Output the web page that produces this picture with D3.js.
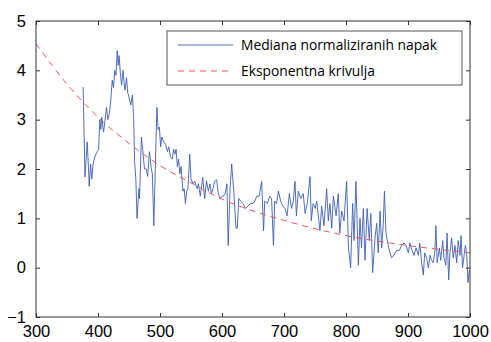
<!DOCTYPE html>
<html>
<head>
<meta charset="utf-8">
<script src="https://cdn.jsdelivr.net/npm/d3@7.9.0/dist/d3.min.js"></script>
<style>
  body { margin: 0; background: #fff; }
  svg { display: block; font-family: "Open Sans", sans-serif; }
</style>
</head>
<body>
<svg id="chart" width="491" height="342"></svg>
<script>
const waveX = [376, 379, 382.6, 384.7, 385.8, 388, 390, 392, 395, 398.7, 401, 403, 404.6, 406, 409, 411, 413.7, 416, 418, 420, 423, 425, 427, 429, 431, 432.5, 434, 436, 438, 440.5, 442, 443.7, 446, 448, 451, 453, 455.5, 457.6, 459, 461, 463, 466, 467, 470, 472, 475, 478, 480, 483, 486, 487.7, 490, 495, 497, 499, 501, 503, 506, 509, 512, 514, 517, 520, 522, 524, 526, 528, 530, 532, 534, 537, 539, 541, 543, 545, 548, 550, 553, 556, 560, 562, 565, 569, 572, 575, 578, 580.6, 583, 585.6, 588, 591.5, 594, 597, 600, 602, 605, 608, 610, 613, 615.6, 619, 622.6, 624.7, 627, 630, 634, 638, 642, 646, 650, 653, 656, 660, 664, 667, 669, 673, 677, 680, 683, 685, 688, 691, 694.6, 698, 701.6, 705, 708.6, 712, 715, 717.7, 720, 723, 727, 731, 734, 737.6, 742, 744, 747, 750.5, 752.7, 758, 760.7, 764.5, 768.8, 771.5, 774, 777, 779.6, 784, 787.6, 790, 793, 796.8, 801, 804, 807.5, 810.7, 813, 816, 820, 822.6, 825, 828, 830.6, 834, 837.6, 840, 843, 846.8, 849.5, 852, 855, 857.5, 860, 862, 864.5, 868, 871, 873.6, 877, 881.7, 886, 889.8, 893.5, 896.8, 900.5, 903, 906.5, 909.7, 913, 916.7, 919, 922, 924.7, 927, 930, 932.8, 935.5, 938, 940.8, 943.5, 945, 947, 950.5, 952.7, 956, 958, 961, 963, 965.6, 967.7, 970.4, 973, 975.8, 978.5, 981, 983.9, 985.5, 988, 990, 992.5, 994.6, 996.7, 999];
const medianError = [3.66, 1.84, 2.55, 2.0, 1.65, 2.1, 1.8, 2.1, 2.25, 2.35, 2.4, 3.0, 2.8, 3.05, 2.75, 2.95, 3.25, 3.0, 3.1, 3.3, 3.8, 3.65, 4.0, 3.9, 4.4, 4.1, 4.3, 3.95, 3.7, 4.0, 3.75, 3.6, 3.85, 3.55, 3.4, 3.3, 3.5, 3.0, 2.15, 1.8, 1.0, 1.6, 1.4, 2.65, 2.4, 2.0, 2.0, 1.85, 2.35, 2.0, 1.9, 0.85, 3.25, 2.8, 2.85, 2.45, 2.65, 2.55, 2.5, 2.35, 2.45, 2.25, 2.2, 2.4, 2.3, 2.4, 2.05, 2.2, 1.9, 2.05, 1.55, 1.6, 1.3, 1.55, 1.6, 2.3, 1.8, 1.7, 1.75, 1.6, 1.7, 1.45, 1.83, 1.4, 1.76, 1.55, 1.7, 1.5, 1.6, 1.75, 1.78, 1.5, 1.4, 1.45, 1.45, 1.5, 1.7, 0.45, 1.6, 2.1, 1.55, 0.8, 0.8, 1.4, 1.35, 1.3, 1.2, 1.25, 1.3, 1.3, 1.35, 1.45, 1.45, 1.75, 0.75, 1.35, 1.3, 1.45, 1.4, 0.45, 1.35, 1.3, 1.55, 1.35, 1.25, 1.2, 1.05, 1.5, 1.2, 1.35, 1.75, 1.05, 1.55, 1.4, 1.5, 1.1, 1.3, 1.85, 0.95, 1.3, 1.2, 1.35, 0.75, 1.25, 0.85, 1.6, 0.95, 1.3, 0.8, 1.45, 1.05, 1.5, 0.7, 1.15, 0.95, 1.75, 0.4, 0.0, 1.3, 0.55, 1.75, 0.05, 1.0, 0.4, 1.2, 0.15, 1.2, 0.55, 1.1, -0.1, 0.6, 0.9, 0.3, 1.15, 0.4, 0.85, 1.55, 0.7, 0.45, 0.3, 0.2, 0.25, 0.35, 0.35, 0.45, 0.5, 0.45, 0.3, 0.5, 0.35, 0.25, 0.4, 0.25, 0.5, 0.1, -0.15, 0.3, 0.2, 0.0, 0.25, 0.15, 0.1, 0.35, 0.85, 0.1, 0.4, 0.15, 0.55, 0.2, 0.05, 0.7, -0.25, 0.3, 0.6, 0.2, 0.45, 0.1, 0.55, 0.25, 0.65, 0.0, 0.2, 0.45, 0.3, -0.3, -0.05];

// fitted exponential, every 50 nm
const fitX = [300, 350, 400, 450, 500, 550, 600, 650, 700, 750, 800, 850, 900, 950, 1000];
const fitY = [4.54, 3.72, 3.05, 2.52, 2.07, 1.72, 1.39, 1.15, 0.96, 0.79, 0.65, 0.54, 0.45, 0.37, 0.30];

const xTicks = [300, 400, 500, 600, 700, 800, 900, 1000];
const yTicks = [-1, 0, 1, 2, 3, 4, 5];
const legendLabels = ['Mediana normaliziranih napak', 'Eksponentna krivulja'];

const svg = d3.select('#chart');
const plotL = 36, plotR = 470, plotT = 21, plotB = 317;

const x = d3.scaleLinear().domain([300, 1000]).range([plotL, plotR]);
const y = d3.scaleLinear().domain([-1, 5]).range([plotB, plotT]);

// clip so lines stay inside the frame
svg.append('clipPath').attr('id', 'clip')
  .append('rect').attr('x', plotL).attr('y', plotT).attr('width', plotR - plotL).attr('height', plotB - plotT);

const plot = svg.append('g').attr('clip-path', 'url(#clip)');

const blueLine = d3.line().x((d) => x(d[0])).y((d) => y(d[1]));
const redLine = d3.line().x((d) => x(d[0])).y((d) => y(d[1])).curve(d3.curveMonotoneX);

plot.append('path')
  .attr('d', blueLine(d3.zip(waveX, medianError)))
  .attr('fill', 'none')
  .attr('stroke', '#3d5fb3')
  .attr('stroke-width', 0.9)
  .attr('stroke-linejoin', 'round');

plot.append('path')
  .attr('d', redLine(d3.zip(fitX, fitY)))
  .attr('fill', 'none')
  .attr('stroke', '#f05656')
  .attr('stroke-width', 1)
  .attr('stroke-dasharray', '6,5');

// axes, ticks pointing inward on all four sides
const tickLen = 4;
const axisStyle = (g) => {
  g.select('.domain').remove();
  g.selectAll('line').attr('stroke', '#333');
  g.selectAll('text').attr('fill', '#000').style('font-size', '16.5px');
};

svg.append('g')
  .attr('transform', `translate(0,${plotB})`)
  .call(d3.axisBottom(x).tickValues(xTicks).tickSize(-tickLen).tickPadding(8).tickFormat(d3.format('d')))
  .call(axisStyle);

svg.append('g')
  .attr('transform', `translate(0,${plotT})`)
  .call(d3.axisTop(x).tickValues(xTicks).tickSize(-tickLen).tickFormat(''))
  .call(axisStyle);

svg.append('g')
  .attr('transform', `translate(${plotL},0)`)
  .call(d3.axisLeft(y).tickValues(yTicks).tickSize(-tickLen).tickPadding(10).tickFormat(d3.format('d')))
  .call(axisStyle);

svg.append('g')
  .attr('transform', `translate(${plotR},0)`)
  .call(d3.axisRight(y).tickValues(yTicks).tickSize(-tickLen).tickFormat(''))
  .call(axisStyle);

svg.append('rect')
  .attr('x', plotL).attr('y', plotT)
  .attr('width', plotR - plotL).attr('height', plotB - plotT)
  .attr('fill', 'none')
  .attr('stroke', '#333')
  .attr('stroke-width', 1);

// legend
const legend = svg.append('g').attr('transform', 'translate(167,31)');
legend.append('rect')
  .attr('width', 295).attr('height', 54)
  .attr('fill', '#fff')
  .attr('stroke', '#555');

legendLabels.forEach((label, i) => {
  const row = legend.append('g').attr('transform', `translate(0,${14 + i * 26})`);
  row.append('line')
    .attr('x1', 11).attr('x2', 66)
    .attr('stroke', i === 0 ? '#3d5fb3' : '#f05656')
    .attr('stroke-width', i === 0 ? 0.9 : 1)
    .attr('stroke-dasharray', i === 0 ? null : '6,5');
  row.append('text')
    .attr('x', 74).attr('dy', '0.35em')
    .attr('fill', '#000')
    .style('font-size', '13.8px')
    .text(label);
});
</script>
</body>
</html>
